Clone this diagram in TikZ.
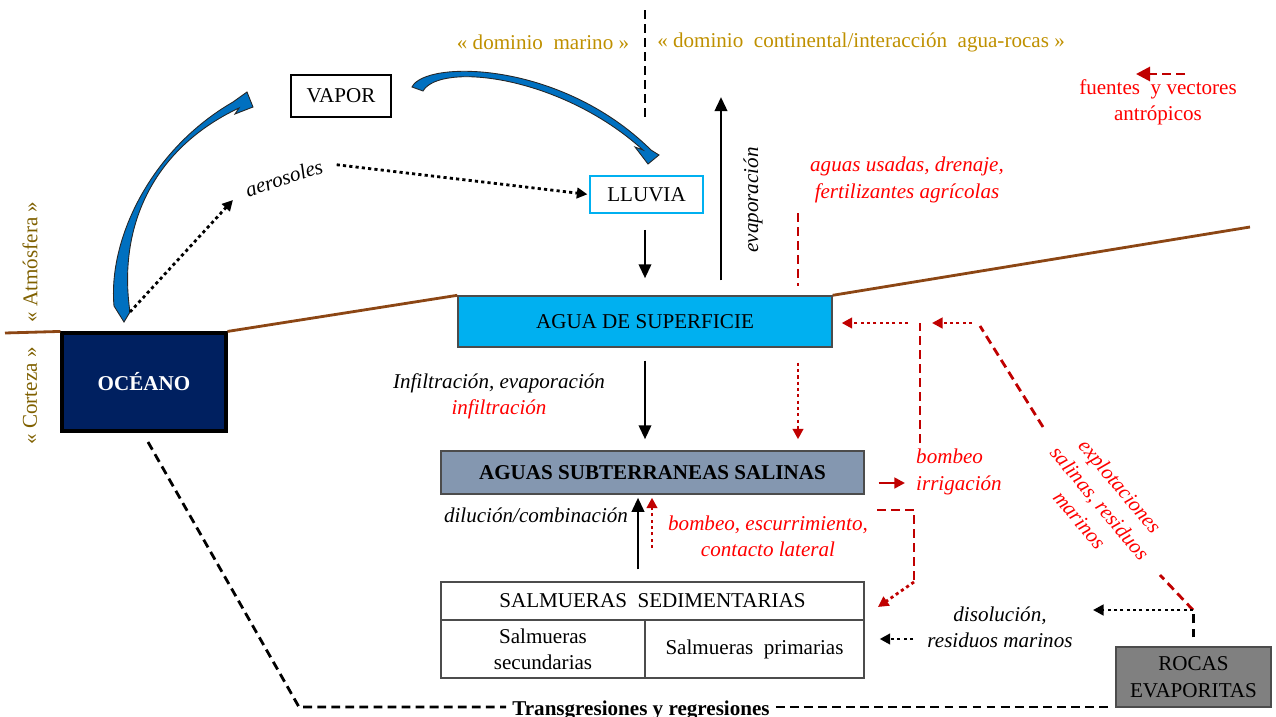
\documentclass[tikz,border=0pt]{standalone}
\usepackage{fontspec}
\setmainfont{Liberation Serif}
\usetikzlibrary{arrows.meta}

\definecolor{tierra}{RGB}{140,70,20}
\definecolor{marino}{RGB}{0,32,96}
\definecolor{cielo}{RGB}{0,176,240}
\definecolor{azul}{RGB}{0,112,192}
\definecolor{pizarra}{RGB}{132,151,176}
\definecolor{gris}{RGB}{128,128,128}
\definecolor{oro}{RGB}{191,144,0}
\definecolor{ocre}{RGB}{127,96,0}
\definecolor{rojo}{RGB}{255,0,0}
\definecolor{granate}{RGB}{192,0,0}
\newcommand{\tam}{\fontsize{12}{15}\selectfont}

\begin{document}
\begin{tikzpicture}[x=0.02cm, y=-0.02cm, font=\tam,
  caja/.style={draw=black!70, line width=0.8pt, inner sep=0pt, align=center},
  flecha/.style={line width=1.6pt, -{Triangle[length=8pt,width=7pt]}},
  punta/.style={-{Triangle[length=6pt,width=6pt]}},
  punteado/.style={line width=1.6pt, dash pattern=on 1.8pt off 1.8pt},
  rayado/.style={line width=1.6pt, dash pattern=on 5pt off 3pt},
  cursiva/.style={font=\tam\itshape},
  flujo/.style={fill=azul, draw=black!85, line width=0.5pt}]

\useasboundingbox (0,0) rectangle (1276,717);

% cajas
\node[caja, fill=marino, draw=black, line width=1.8pt, minimum width=3.28cm, minimum height=1.96cm,
      text=white, font=\tam\bfseries] (oceano) at (144,382) {OCÉANO};
\node[caja, draw=black, minimum width=2cm, minimum height=0.84cm] (vapor) at (341,96) {VAPOR};
\node[caja, draw=cielo, line width=1pt, minimum width=2.26cm, minimum height=0.74cm] (lluvia) at (646.5,194.5) {LLUVIA};
\node[caja, fill=cielo, minimum width=7.48cm, minimum height=1.02cm] (superficie) at (645,321.5) {AGUA DE SUPERFICIE};
\node[caja, fill=pizarra, minimum width=8.46cm, minimum height=0.86cm,
      font=\tam\bfseries] (subterranea) at (652.5,472.5) {AGUAS SUBTERRANEAS SALINAS};
\node[caja, minimum width=8.46cm, minimum height=0.76cm] (sedim) at (652.5,601) {SALMUERAS\ \ SEDIMENTARIAS};
\node[caja, minimum width=4.08cm, minimum height=1.16cm] (secund) at (543,649) {Salmueras\\secundarias};
\node[caja, minimum width=4.38cm, minimum height=1.16cm] (prim) at (754.5,649) {Salmueras\ \ primarias};
\node[caja, fill=gris, minimum width=3.1cm, minimum height=1.2cm] (rocas) at (1193.5,677) {ROCAS\\EVAPORITAS};

% textos
\node[rotate=90, text=ocre] (atmosfera) at (30,262) {«\ Atmósfera\ »};
\node[rotate=90, text=ocre] (corteza) at (30,396) {«\ Corteza\ »};
\node[text=oro] (marino) at (543,42) {«\ dominio\ \ marino\ »};
\node[text=oro] (continental) at (861,42) {«\ dominio\ \ continental/interacción\ \ agua-rocas\ »};
\node[cursiva, rotate=18] (aerosoles) at (284,178) {aerosoles};
\node[cursiva, rotate=90] (evaporacion) at (753,200) {evaporación};
\node[cursiva, text=rojo, align=center] (usadas) at (907,180) {aguas usadas, drenaje,\\fertilizantes agrícolas};
\node[text=rojo, align=center] (fuentes) at (1158,102) {fuentes\ \ y vectores\\antrópicos};
\node[cursiva, align=center] (infiltracion) at (499,396) {Infiltración, evaporación\\\textcolor{rojo}{infiltración}};
\node[cursiva] (dilucion) at (536,515) {dilución/combinación};
\node[cursiva, text=rojo, align=center] (escurrimiento) at (768,536) {bombeo, escurrimiento,\\contacto lateral};
\node[cursiva, text=rojo, align=left, anchor=west] (irrigacion) at (910,472) {bombeo\\irrigación};
\node[cursiva, align=center] (disolucion) at (1000,627) {disolución,\\residuos marinos};
\node[cursiva, text=rojo, align=center, rotate=-50] (explotaciones) at (1100,503) {explotaciones\\salinas, residuos\\marinos};
\node[font=\tam\bfseries, anchor=base] (transgresion) at (641,715) {Transgresiones y regresiones};

% linea del suelo
\coordinate (costa) at (5,333);
\coordinate (monte) at (1250,227);
\draw[tierra, line width=1.6pt] (costa) -- (oceano.north west)
  (oceano.north east) -- (superficie.north west) (superficie.north east) -- (monte);

% flujos azules
\filldraw[flujo] (124,322) -- (114,306) .. controls (108,240) and (150,150) .. (233,102)
  -- (247,92) -- (253,107) -- (235,114) -- (239,108) .. controls (150,150) and (118,230) .. (130,312) -- cycle;
\filldraw[flujo] (412,87) .. controls (425,60) and (560,60) .. (651,150)
  -- (659,155) -- (648,164) -- (635,147) -- (643,150) .. controls (560,75) and (440,62) .. (423,91) -- cycle;

% aerosoles
\coordinate (spray) at (130,312);
\draw[punteado, punta, shorten >=6pt] (spray) -- (aerosoles.west);
\draw[punteado, punta, shorten <=5pt, shorten >=1pt] (aerosoles.east) -- (lluvia.west);

% limite de dominios
\coordinate (divA) at (645,10);
\coordinate (divB) at (645,120);
\draw[rayado] (divA) -- (divB);

% lluvia y evaporacion
\draw[flecha, shorten <=0.32cm, shorten >=0.34cm] (lluvia.south -| superficie.north) -- (superficie.north);
\coordinate (evaptop) at (721,97);
\draw[flecha, shorten <=0.3cm] (superficie.north -| evaptop) -- (evaptop);

% aportes antropicos
\coordinate (vertido) at (798,213);
\draw[rayado, granate, shorten >=0.18cm] (vertido) -- (vertido |- superficie.north);
\draw[punteado, granate, punta, shorten <=0.3cm, shorten >=0.22cm] (superficie.south -| vertido) -- (subterranea.north -| vertido);
\coordinate (leyA) at (1185,74);
\coordinate (leyB) at (1136,74);
\draw[rayado, granate, -{Triangle[length=8pt,width=8pt]}] (leyA) -- (leyB);

% infiltracion y mezcla
\draw[flecha, shorten <=0.26cm, shorten >=0.22cm] (superficie.south) -- (superficie.south |- subterranea.north);
\draw[flecha, shorten <=0.24cm, shorten >=0.06cm] ([xshift=-0.29cm]sedim.north) -- ([xshift=-0.29cm]subterranea.south);
\coordinate (bombeo) at (652,548);
\draw[punteado, granate, punta, shorten >=0.06cm] (bombeo) -- (bombeo |- subterranea.south);

% bombeo para irrigacion
\coordinate (riegoA) at (905,483);
\draw[line width=1.6pt, granate, punta, shorten <=0.28cm] (riegoA -| subterranea.east) -- (riegoA);
\coordinate (riegoB) at (920,443);
\coordinate (riegoC) at (920,323);
\draw[rayado, granate] (riegoB) -- (riegoC);
\draw[punteado, granate, punta, shorten <=0.24cm, shorten >=0.18cm] (riegoC) -- (riegoC -| superficie.east);

% explotaciones
\coordinate (exA) at (1193,610);
\coordinate (exB) at (1160,575);
\coordinate (exC) at (1043,427);
\coordinate (exD) at (980,326);
\coordinate (exE) at (972,323);
\draw[rayado, granate] (exA) -- (exB) (exC) -- (exD);
\draw[punteado, granate, punta, shorten >=0.24cm] (exE) -- (riegoC);

% disolucion
\draw[rayado, shorten <=0.18cm] (rocas.north) -- (rocas.north |- exA);
\coordinate (disA) at (1093,610);
\draw[punteado, punta] (exA) -- (disA);
\coordinate (disB) at (913,639);
\draw[punteado, punta, shorten >=0.3cm] (disB) -- (disB -| prim.east);

% escurrimiento
\coordinate (esA) at (877,510);
\coordinate (esB) at (914,510);
\coordinate (esC) at (914,582);
\coordinate (esD) at (878,607);
\draw[rayado, granate] (esA) -- (esB) -- (esC);
\draw[punteado, granate, punta] (esC) -- (esD);

% transgresiones
\coordinate (trA) at (148,442);
\coordinate (trB) at (299,707);
\draw[rayado] (trA) -- (trB) -- (trB -| transgresion.west);
\draw[rayado, shorten >=0.12cm] (trB -| transgresion.east) -- (trB -| rocas.west);
\end{tikzpicture}
\end{document}
